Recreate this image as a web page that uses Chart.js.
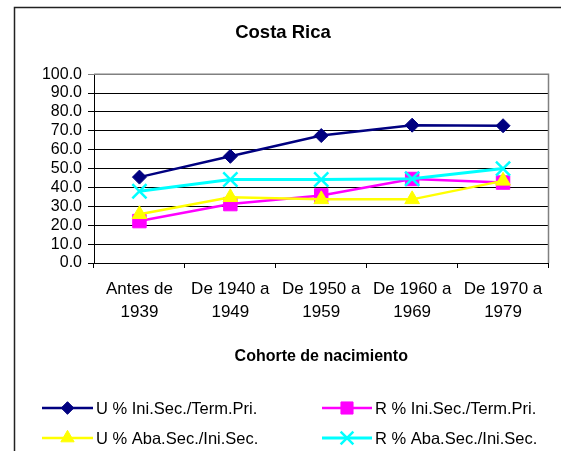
<!DOCTYPE html>
<html>
<head>
<meta charset="utf-8">
<script src="https://cdn.jsdelivr.net/npm/chart.js@4/dist/chart.umd.min.js"></script>
<style>
  html, body { margin: 0; padding: 0; background: #fff; }
  #wrap { width: 561px; height: 451px; }
</style>
</head>
<body>
<div id="wrap"><canvas id="grafico" width="561" height="451"></canvas></div>
<script>
// ===== DATOS =====
const cohortes = [
    ['Antes de', '1939'],
    ['De 1940 a', '1949'],
    ['De 1950 a', '1959'],
    ['De 1960 a', '1969'],
    ['De 1970 a', '1979']
];
const uIniSec = [45.5, 56.5, 67.5, 73.0, 72.7];   // U % Ini.Sec./Term.Pri.
const rIniSec = [22.2, 31.2, 35.8, 44.5, 42.6];   // R % Ini.Sec./Term.Pri.
const uAbaSec = [25.8, 34.8, 33.7, 33.7, 43.5];   // U % Aba.Sec./Ini.Sec.
const rAbaSec = [38.0, 44.2, 44.2, 44.6, 50.0];   // R % Aba.Sec./Ini.Sec.
const ejeY = { min: 0, max: 100, paso: 10 };

const FUENTE = "'Liberation Sans', Arial, sans-serif";
Chart.defaults.font.family = FUENTE;
Chart.defaults.color = '#000';

// ===== PLUGIN: marco, borde del área y leyenda =====
const marcoYLeyenda = {
    id: 'marcoYLeyenda',
    beforeDraw(chart) {
        const ctx = chart.ctx;
        ctx.save();
        ctx.fillStyle = '#fff';
        ctx.fillRect(0, 0, chart.width, chart.height);
        ctx.restore();
    },
    afterDraw(chart) {
        const ctx = chart.ctx;
        const a = chart.chartArea;
        ctx.save();
        // borde gris superior y derecho del área de trazado
        ctx.strokeStyle = '#808080';
        ctx.lineWidth = 1.5;
        ctx.beginPath();
        ctx.moveTo(a.left, a.top);
        ctx.lineTo(a.right, a.top);
        ctx.lineTo(a.right, a.bottom);
        ctx.stroke();
        // marco exterior
        ctx.strokeStyle = '#222';
        ctx.lineWidth = 1.5;
        ctx.beginPath();
        ctx.moveTo(14.5, chart.height);
        ctx.lineTo(14.5, 7.5);
        ctx.lineTo(chart.width, 7.5);
        ctx.stroke();

        // leyenda
        const cols = [{ x0: 42, x1: 93, tx: 96 }, { x0: 322, x1: 372, tx: 375 }];
        const filas = [408, 438];
        ctx.font = '16.5px ' + FUENTE;
        ctx.textBaseline = 'middle';
        chart.data.datasets.forEach((ds, i) => {
            const c = cols[i % 2];
            const y = filas[Math.floor(i / 2)];
            ctx.strokeStyle = ds.borderColor;
            ctx.lineWidth = ds.borderWidth;
            ctx.beginPath();
            ctx.moveTo(c.x0, y);
            ctx.lineTo(c.x1, y);
            ctx.stroke();
            ctx.fillStyle = ds.pointBackgroundColor;
            ctx.strokeStyle = ds.pointBorderColor;
            ctx.lineWidth = ds.pointBorderWidth;
            Chart.helpers.drawPoint(ctx, {
                pointStyle: ds.pointStyle,
                radius: ds.pointRadius * 0.9,
                rotation: 0,
                borderWidth: ds.pointBorderWidth
            }, (c.x0 + c.x1) / 2, y);
            ctx.fillStyle = '#000';
            ctx.fillText(ds.label, c.tx, y + 1);
        });
        ctx.restore();
    }
};

// ===== GRÁFICO =====
new Chart(document.getElementById('grafico'), {
    type: 'line',
    data: {
        labels: cohortes,
        datasets: [
            { label: 'U % Ini.Sec./Term.Pri.', data: uIniSec, order: 3,
              borderColor: '#000080', borderWidth: 2.5, tension: 0,
              pointStyle: 'rectRot', pointRadius: 7,
              pointBackgroundColor: '#000080', pointBorderColor: '#000080', pointBorderWidth: 1 },
            { label: 'R % Ini.Sec./Term.Pri.', data: rIniSec, order: 2,
              borderColor: '#ff00ff', borderWidth: 2.5, tension: 0,
              pointStyle: 'rect', pointRadius: 9.5,
              pointBackgroundColor: '#ff00ff', pointBorderColor: '#ff00ff', pointBorderWidth: 1 },
            { label: 'U % Aba.Sec./Ini.Sec.', data: uAbaSec, order: 1,
              borderColor: '#ffff00', borderWidth: 2.5, tension: 0,
              pointStyle: 'triangle', pointRadius: 8.5,
              pointBackgroundColor: '#ffff00', pointBorderColor: '#ffff00', pointBorderWidth: 1 },
            { label: 'R % Aba.Sec./Ini.Sec.', data: rAbaSec, order: 0,
              borderColor: '#00ffff', borderWidth: 3, tension: 0,
              pointStyle: 'crossRot', pointRadius: 10,
              pointBackgroundColor: '#00ffff', pointBorderColor: '#00ffff', pointBorderWidth: 2.5 }
        ]
    },
    options: {
        responsive: false,
        animation: false,
        devicePixelRatio: 1,
        layout: { padding: { left: 14, right: 9, top: 10, bottom: 80 } },
        plugins: {
            legend: { display: false },
            tooltip: { enabled: false },
            title: {
                display: true,
                text: 'Costa Rica',
                color: '#000',
                font: { size: 18.5, weight: 'bold', family: FUENTE },
                padding: { top: 12, bottom: 30 }
            }
        },
        scales: {
            x: {
                offset: true,
                grid: { offset: true, drawOnChartArea: false, color: '#000', tickLength: 5 },
                border: { color: '#000', width: 1 },
                ticks: {
                    autoSkip: false, maxRotation: 0, padding: 10,
                    font: { size: 17, lineHeight: 1.35 }, color: '#000'
                },
                title: {
                    display: true,
                    text: 'Cohorte de nacimiento',
                    color: '#000',
                    font: { size: 16, weight: 'bold' },
                    padding: { top: 0, bottom: 5 }
                },
                afterFit(scale) { scale.height = 108; }
            },
            y: {
                min: ejeY.min, max: ejeY.max,
                grid: {
                    color: ctx => ctx.tick && ctx.tick.value === ejeY.max ? '#808080' : '#000',
                    lineWidth: 1, tickLength: 6
                },
                border: { color: '#000', width: 1 },
                ticks: {
                    stepSize: ejeY.paso, padding: 6, autoSkip: false,
                    font: { size: 16, lineHeight: 1 }, color: '#000',
                    callback: v => v.toFixed(1)
                },
                afterFit(scale) { scale.width = 80; }
            }
        }
    },
    plugins: [marcoYLeyenda]
});
</script>
</body>
</html>
